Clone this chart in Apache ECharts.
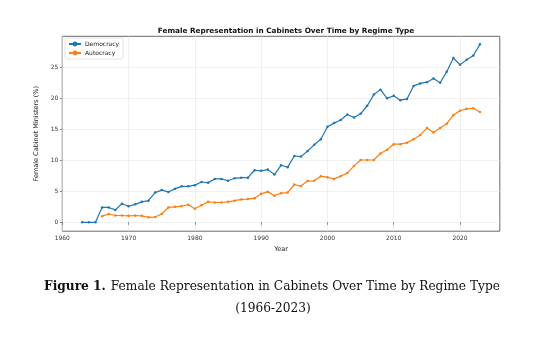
<!DOCTYPE html>
<html>
<head>
<meta charset="utf-8">
<script src="https://cdn.jsdelivr.net/npm/echarts@6/dist/echarts.min.js"></script>
<style>
  html, body { margin: 0; padding: 0; background: #ffffff; }
  #chart { width: 533px; height: 338px; }
</style>
</head>
<body>
<div id="chart"></div>
<script>
// Share of cabinet ministers who are women (%), by regime type
const democracyYears = [1963, 1964, 1965, 1966, 1967, 1968, 1969, 1970, 1971, 1972,
  1973, 1974, 1975, 1976, 1977, 1978, 1979, 1980, 1981, 1982,
  1983, 1984, 1985, 1986, 1987, 1988, 1989, 1990, 1991, 1992,
  1993, 1994, 1995, 1996, 1997, 1998, 1999, 2000, 2001, 2002,
  2003, 2004, 2005, 2006, 2007, 2008, 2009, 2010, 2011, 2012,
  2013, 2014, 2015, 2016, 2017, 2018, 2019, 2020, 2021, 2022, 2023];
const democracyValues = [0, 0, 0, 2.4, 2.4, 2.0, 3.0, 2.6, 2.9, 3.3,
  3.5, 4.8, 5.2, 4.9, 5.4, 5.8, 5.8, 6.0, 6.5, 6.4,
  7.0, 7.0, 6.7, 7.1, 7.2, 7.2, 8.4, 8.3, 8.5, 7.7,
  9.2, 8.9, 10.7, 10.6, 11.5, 12.5, 13.4, 15.4, 16.0, 16.5,
  17.4, 16.9, 17.5, 18.8, 20.6, 21.4, 20.0, 20.4, 19.7, 19.9,
  22.0, 22.4, 22.6, 23.2, 22.5, 24.3, 26.5, 25.4, 26.2, 26.9, 28.7];

const autocracyYears = [1966, 1967, 1968, 1969, 1970, 1971, 1972,
  1973, 1974, 1975, 1976, 1977, 1978, 1979, 1980, 1981, 1982,
  1983, 1984, 1985, 1986, 1987, 1988, 1989, 1990, 1991, 1992,
  1993, 1994, 1995, 1996, 1997, 1998, 1999, 2000, 2001, 2002,
  2003, 2004, 2005, 2006, 2007, 2008, 2009, 2010, 2011, 2012,
  2013, 2014, 2015, 2016, 2017, 2018, 2019, 2020, 2021, 2022, 2023];
const autocracyValues = [1.0, 1.35, 1.1, 1.1, 1.05, 1.1, 1.05,
  0.8, 0.85, 1.35, 2.4, 2.5, 2.6, 2.85, 2.2, 2.75, 3.3,
  3.2, 3.2, 3.3, 3.5, 3.7, 3.75, 3.9, 4.6, 4.95, 4.3,
  4.7, 4.8, 6.1, 5.85, 6.65, 6.7, 7.45, 7.25, 7.0, 7.45,
  7.95, 9.1, 10.05, 10.05, 10.05, 11.1, 11.7, 12.6, 12.6, 12.85,
  13.4, 14.1, 15.2, 14.5, 15.2, 15.9, 17.3, 18.0, 18.3, 18.4, 17.8];

const xTicks = [1960, 1970, 1980, 1990, 2000, 2010, 2020];
const yTicks = [0, 5, 10, 15, 20, 25];

const pairs = (xs, ys) => xs.map((x, i) => [x, ys[i]]);

const tickFont = { fontFamily: 'DejaVu Sans', fontSize: 6, color: '#333' };
const gridLine = { show: true, lineStyle: { color: '#e6e6e6', width: 0.6 } };

const chart = echarts.init(document.getElementById('chart'), null, { renderer: 'canvas' });
chart.setOption({
  backgroundColor: '#ffffff',
  animation: false,
  title: [
    {
      text: 'Female Representation in Cabinets Over Time by Regime Type',
      left: 281, top: 23, textAlign: 'center',
      textStyle: { fontFamily: 'DejaVu Sans', fontWeight: 'bold', fontSize: 7.3, color: '#111' }
    },
    {
      text: '{b|Figure 1.} {n|Female Representation in Cabinets Over Time by Regime Type}',
      left: 267, top: 273, textAlign: 'center',
      textStyle: {
        fontWeight: 'normal',
        rich: {
          b: { fontFamily: 'DejaVu Serif', fontWeight: 'bold', fontSize: 12.2, color: '#111' },
          n: { fontFamily: 'DejaVu Serif', fontWeight: 'normal', fontSize: 12.2, color: '#111' }
        }
      }
    },
    {
      text: '(1966-2023)',
      left: 268, top: 298, textAlign: 'center',
      textStyle: { fontFamily: 'DejaVu Serif', fontWeight: 'normal', fontSize: 12.2, color: '#111' }
    }
  ],
  legend: {
    left: 65, top: 38, orient: 'vertical',
    itemWidth: 12, itemHeight: 6, itemGap: 3,
    padding: [3, 4, 3, 3],
    borderColor: '#d0d0d0', borderWidth: 0.6, borderRadius: 2,
    backgroundColor: '#ffffff',
    textStyle: { fontFamily: 'DejaVu Sans', fontSize: 6, color: '#222', padding: [0, 0, 0, -1] },
    data: ['Democracy', 'Autocracy']
  },
  grid: {
    left: 62.3, right: 33.2, top: 36.3, bottom: 106.8,
    show: true, borderColor: '#444', borderWidth: 0.8, backgroundColor: 'transparent'
  },
  xAxis: {
    type: 'value', min: 1960, max: 2026,
    name: 'Year', nameLocation: 'middle', nameGap: 14,
    nameTextStyle: { fontFamily: 'DejaVu Sans', fontSize: 6.5, color: '#222' },
    axisLine: { show: false },
    axisTick: { show: true, length: 2.5, customValues: xTicks, lineStyle: { color: '#444', width: 0.6 } },
    axisLabel: { ...tickFont, margin: 4, customValues: xTicks, formatter: (v) => String(v) },
    splitLine: gridLine
  },
  yAxis: {
    type: 'value', min: -1.43, max: 30.0,
    name: 'Female Cabinet Ministers (%)', nameLocation: 'middle', nameGap: 18,
    nameTextStyle: { fontFamily: 'DejaVu Sans', fontSize: 6.5, color: '#222' },
    axisLine: { show: false },
    axisTick: { show: true, length: 2.5, customValues: yTicks, lineStyle: { color: '#444', width: 0.6 } },
    axisLabel: { ...tickFont, margin: 4, customValues: yTicks, formatter: (v) => String(v) },
    splitLine: gridLine
  },
  series: [
    {
      name: 'Democracy', type: 'line',
      data: pairs(democracyYears, democracyValues),
      color: '#1f77b4',
      symbol: 'circle', symbolSize: 2.5, showSymbol: true,
      lineStyle: { width: 1.2 }
    },
    {
      name: 'Autocracy', type: 'line',
      data: pairs(autocracyYears, autocracyValues),
      color: '#ff7f0e',
      symbol: 'circle', symbolSize: 2.5, showSymbol: true,
      lineStyle: { width: 1.2 }
    }
  ]
});
</script>
</body>
</html>
